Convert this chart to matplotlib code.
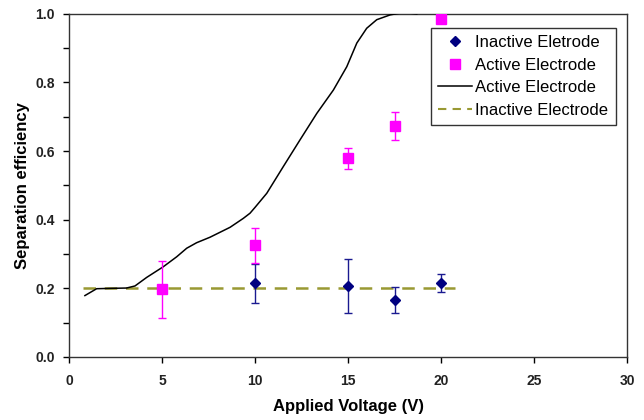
import numpy as np
import matplotlib
matplotlib.use('Agg')
import matplotlib.pyplot as plt
from matplotlib.lines import Line2D
from matplotlib.ticker import MultipleLocator

plt.rcParams['font.family'] = ['Liberation Sans', 'DejaVu Sans']

# Inactive electrode measurements
inactive_x = [10, 15, 17.5, 20]
inactive_y = [0.215, 0.207, 0.166, 0.215]
inactive_err = [0.057, 0.078, 0.037, 0.027]

# Active electrode measurements
active_x = [5, 10, 15, 17.5, 20]
active_y = [0.197, 0.325, 0.579, 0.673, 0.985]
active_err = [0.082, 0.051, 0.030, 0.041, 0.0]

# Active electrode model curve
curve_x = [0.86, 1.49, 2.2, 3.1, 3.55, 4.18, 5.07, 5.79, 6.33, 6.86, 7.58, 8.66,
           9.37, 9.73, 10.0, 10.63, 11.52, 12.42, 13.32, 14.21, 14.93, 15.47,
           16.0, 16.54, 17.26, 17.97, 18.69]
curve_y = [0.179, 0.199, 0.200, 0.201, 0.207, 0.232, 0.263, 0.292, 0.317, 0.333,
           0.349, 0.378, 0.404, 0.419, 0.436, 0.477, 0.555, 0.633, 0.710, 0.778,
           0.846, 0.915, 0.958, 0.983, 0.997, 1.004, 1.0]

# Inactive electrode model line
flat_x = [0.75, 20.75]
flat_y = [0.2, 0.2]

navy = '#000080'
magenta = '#ff00ff'
olive = '#999933'

fig = plt.figure(figsize=(6.44, 4.2), dpi=100)
ax = fig.add_axes([0.107, 0.15, 0.867, 0.817])

ax.errorbar(inactive_x, inactive_y, yerr=inactive_err, fmt='D', color=navy,
            ecolor='#1a1a90', markersize=5.5, capsize=3, elinewidth=1, capthick=1,
            zorder=4)
ax.errorbar(active_x, active_y, yerr=active_err, fmt='s', color=magenta,
            ecolor=magenta, markersize=6.5, capsize=3, elinewidth=1, capthick=1,
            zorder=4)
ax.plot(curve_x, curve_y, color='black', lw=1.1, zorder=3)
ax.plot(flat_x, flat_y, color=olive, lw=1.8, ls=(0, (5, 3.5)), zorder=2)

ax.set_xlim(0, 30)
ax.set_ylim(0, 1.0)
ax.set_xticks(np.arange(0, 31, 5))
ax.set_yticks(np.arange(0, 1.01, 0.2))
ax.yaxis.set_minor_locator(MultipleLocator(0.1))
ax.set_yticklabels(['%.1f' % v for v in np.arange(0, 1.01, 0.2)])
ax.tick_params(which='both', direction='out', length=4, width=1, labelsize=10)
ax.tick_params(axis='x', pad=8)
ax.tick_params(axis='y', pad=6)
for lab in ax.get_xticklabels() + ax.get_yticklabels():
    lab.set_fontweight('bold')
    lab.set_color('#222222')

for s in ax.spines.values():
    s.set_linewidth(1)
    s.set_color('#333333')

ax.set_xlabel('Applied Voltage (V)', fontsize=12, fontweight='bold', labelpad=8)
ax.set_ylabel('Separation efficiency', fontsize=12, fontweight='bold', labelpad=4)

handles = [
    Line2D([], [], ls='none', marker='D', color=navy, markersize=5),
    Line2D([], [], ls='none', marker='s', color=magenta, markersize=7),
    Line2D([], [], color='black', lw=1.1),
    Line2D([], [], color=olive, lw=1.5, ls=(0, (4, 3))),
]
labels = ['Inactive Eletrode', 'Active Electrode', 'Active Electrode', 'Inactive Electrode']
leg = ax.legend(handles, labels, loc='upper right', bbox_to_anchor=(0.979, 0.96),
                fontsize=12, frameon=True, fancybox=False, edgecolor='#333333',
                framealpha=1, handlelength=2.0, handletextpad=0.2, borderpad=0.45,
                labelspacing=0.45, borderaxespad=0)
leg.get_frame().set_linewidth(1)

fig.savefig('out.png', dpi=100)
plt.close()
